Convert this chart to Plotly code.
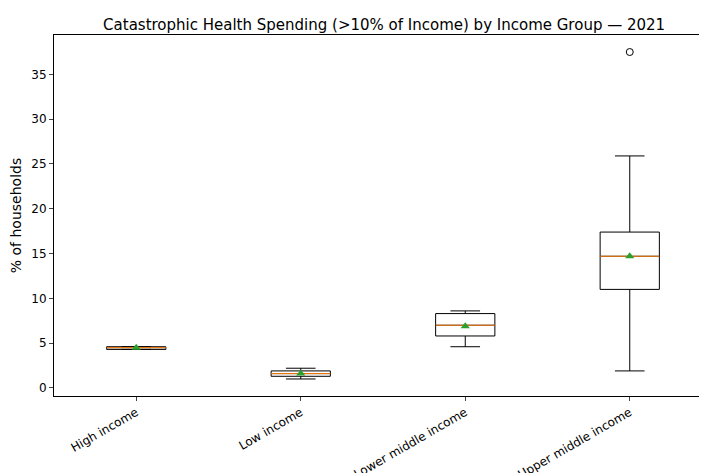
import plotly.graph_objects as go

groups = ["High income", "Low income", "Lower middle income", "Upper middle income"]
positions = [1, 2, 3, 4]
q1 = [4.3, 1.3, 5.8, 11.0]
median = [4.5, 1.6, 7.0, 14.7]
q3 = [4.6, 1.9, 8.3, 17.4]
low_whisker = [4.3, 1.0, 4.6, 1.9]
high_whisker = [4.6, 2.2, 8.6, 25.9]
means = [4.5, 1.6, 6.9, 14.7]
outlier_pos = [4]
outlier_val = [37.5]

half = 0.18  # half box width

fig = go.Figure()
fig.add_trace(go.Box(
    x=positions, q1=q1, median=median, q3=q3,
    lowerfence=low_whisker, upperfence=high_whisker,
    width=2 * half, whiskerwidth=0.5, boxpoints=False,
    line=dict(color="black", width=1), fillcolor="rgba(0,0,0,0)",
    showlegend=False, hoverinfo="skip"))

# median lines in orange
mx, my = [], []
for p, m in zip(positions, median):
    mx += [p - half, p + half, None]
    my += [m, m, None]
fig.add_trace(go.Scatter(x=mx, y=my, mode="lines",
                         line=dict(color="#ff7f0e", width=1), showlegend=False))

fig.add_trace(go.Scatter(x=positions, y=means, mode="markers",
                         marker=dict(symbol="triangle-up", color="#2ca02c", size=8),
                         showlegend=False))
fig.add_trace(go.Scatter(x=outlier_pos, y=outlier_val, mode="markers",
                         marker=dict(symbol="circle-open", color="black", size=7),
                         showlegend=False))

fig.update_layout(
    width=707, height=473, plot_bgcolor="white", paper_bgcolor="white",
    margin=dict(l=46, r=3, t=27, b=85),
    font=dict(family="DejaVu Sans", size=12, color="black"),
    title=dict(text="Catastrophic Health Spending (>10% of Income) by Income Group — 2021",
               x=0.532, xanchor="center", y=0.975, yanchor="top", font=dict(size=15)),
)
fig.update_xaxes(range=[0.5, 4.5], tickvals=positions, ticktext=groups, tickangle=-30,
                 showline=True, mirror=True, linecolor="black", showgrid=False,
                 zeroline=False, ticks="outside", ticklen=4, automargin=False)
fig.update_yaxes(range=[-0.9, 39.4], dtick=5, title_text="% of households",
                 showline=True, mirror=True, linecolor="black", showgrid=False,
                 zeroline=False, ticks="outside", ticklen=4, automargin=False,
                 title_standoff=8)

fig.write_html("out.html")
